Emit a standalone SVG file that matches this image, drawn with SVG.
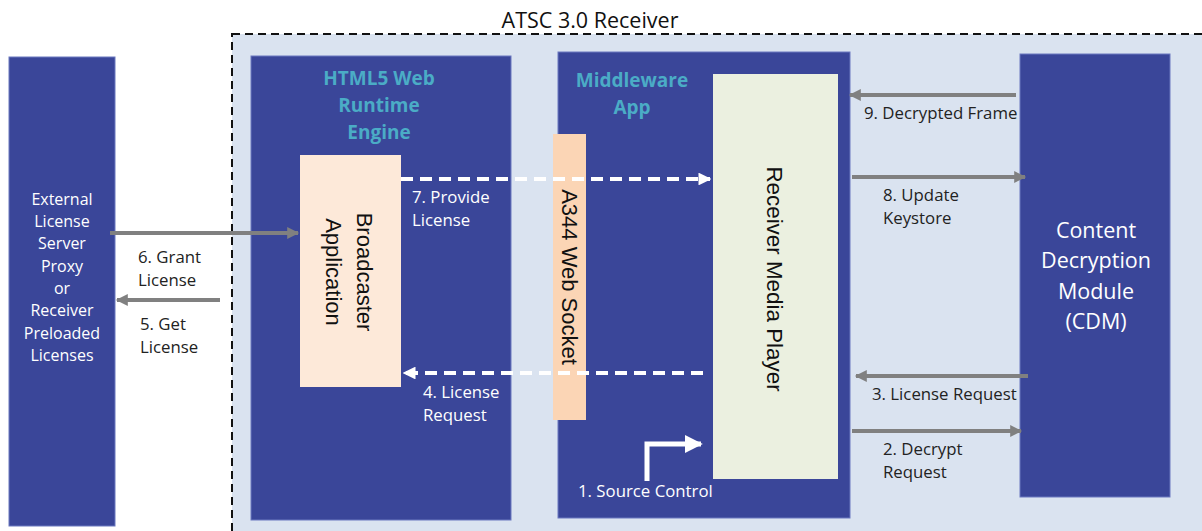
<svg xmlns="http://www.w3.org/2000/svg" width="1202" height="531" viewBox="0 0 1202 531">
<style>
.blue{fill:#3a4699;stroke:#6b78bf;stroke-width:1}
.t{font-family:"Open Sans","Liberation Sans",sans-serif;font-size:16.8px;fill:#222}
.w{font-family:"Open Sans","Liberation Sans",sans-serif;font-size:16.8px;fill:#ffffff}
.head{font-family:"Open Sans","Liberation Sans",sans-serif;font-size:19px;font-weight:bold;fill:#4bacc6;text-anchor:middle}
.big{font-family:"Liberation Sans",Arial,sans-serif;font-size:22px;fill:#111;text-anchor:middle}
.gray{stroke:#808080;stroke-width:4;fill:none}
.dash{stroke:#ffffff;stroke-width:4;fill:none;stroke-dasharray:12 7}
</style>
<defs>
<marker id="ga" viewBox="0 0 10 10" refX="9" refY="5" markerWidth="3.2" markerHeight="3" orient="auto" markerUnits="strokeWidth">
<path d="M0,0 L10,5 L0,10 z" fill="#808080"/>
</marker>
<marker id="wa" viewBox="0 0 10 10" refX="9" refY="5" markerWidth="3.2" markerHeight="3.2" orient="auto" markerUnits="strokeWidth">
<path d="M0,0 L10,5 L0,10 z" fill="#ffffff"/>
</marker>
<marker id="wb" viewBox="0 0 10 10" refX="9" refY="5" markerWidth="3.6" markerHeight="4" orient="auto" markerUnits="strokeWidth">
<path d="M0,0 L10,5 L0,10 z" fill="#ffffff"/>
</marker>
</defs>
<rect width="1202" height="531" fill="#ffffff"/>
<g id="receiver">
<rect x="232" y="34" width="980" height="510" fill="#dae3f0" stroke="#111" stroke-width="2" stroke-dasharray="8 5"/>
<text x="590" y="28" text-anchor="middle" style="font-family:'Open Sans','Liberation Sans',sans-serif;font-size:21.5px;fill:#111">ATSC 3.0 Receiver</text>
</g>
<g id="external">
<rect class="blue" x="9" y="57" width="106" height="469"/>
<text text-anchor="middle" style="font-family:'Open Sans','Liberation Sans',sans-serif;font-size:16px;fill:#fff"><tspan x="62" y="205">External</tspan><tspan x="62" y="227">License</tspan><tspan x="62" y="249">Server</tspan><tspan x="62" y="272">Proxy</tspan><tspan x="62" y="294">or</tspan><tspan x="62" y="316">Receiver</tspan><tspan x="62" y="339">Preloaded</tspan><tspan x="62" y="361">Licenses</tspan></text>
</g>
<g id="html5">
<rect class="blue" x="251" y="56" width="260" height="464"/>
<text class="head"><tspan x="379" y="85">HTML5 Web</tspan><tspan x="379" y="112">Runtime</tspan><tspan x="379" y="139">Engine</tspan></text>
</g>
<g id="broadcaster">
<rect x="300" y="155" width="101" height="232" fill="#fde9d9"/>
<text class="big" transform="translate(350,272) rotate(90)"><tspan x="0" y="-7">Broadcaster</tspan><tspan x="0" y="24">Application</tspan></text>
</g>
<g id="middleware">
<rect class="blue" x="558" y="52" width="292" height="466"/>
<text class="head"><tspan x="632" y="87">Middleware</tspan><tspan x="632" y="114">App</tspan></text>
</g>
<g id="websocket">
<rect x="553" y="134" width="33" height="286" fill="#fbd5b5"/>
<text class="big" transform="translate(569,277) rotate(90)" y="7">A344 Web Socket</text>
</g>
<g id="player">
<rect x="713" y="74" width="125" height="405" fill="#ebf0e0"/>
<text class="big" transform="translate(775,279) rotate(90)" y="8" style="font-size:22.4px">Receiver Media Player</text>
</g>
<g id="cdm">
<rect class="blue" x="1020" y="54" width="150" height="443"/>
<text text-anchor="middle" style="font-family:'Open Sans','Liberation Sans',sans-serif;font-size:21.5px;fill:#fff"><tspan x="1096" y="238">Content</tspan><tspan x="1096" y="268">Decryption</tspan><tspan x="1096" y="299">Module</tspan><tspan x="1096" y="329">(CDM)</tspan></text>
</g>
<g id="connectors">
<line class="gray" x1="1016" y1="95" x2="850" y2="95" marker-end="url(#ga)"/>
<line class="gray" x1="852" y1="177" x2="1025" y2="177" marker-end="url(#ga)"/>
<line class="gray" x1="1028" y1="376" x2="856" y2="376" marker-end="url(#ga)"/>
<line class="gray" x1="852" y1="431" x2="1021" y2="431" marker-end="url(#ga)"/>
<line class="gray" x1="110" y1="233" x2="298" y2="233" marker-end="url(#ga)"/>
<line class="gray" x1="220" y1="300" x2="117" y2="300" marker-end="url(#ga)"/>
<line class="dash" x1="401" y1="179" x2="710" y2="179" marker-end="url(#wa)"/>
<line class="dash" x1="703" y1="373" x2="404" y2="373" marker-end="url(#wa)"/>
<path d="M647,481 V444 H701" stroke="#fff" stroke-width="5" fill="none" marker-end="url(#wb)"/>
<text class="t" x="864" y="119">9. Decrypted Frame</text>
<text class="t"><tspan x="883" y="201">8. Update</tspan><tspan x="883" y="224">Keystore</tspan></text>
<text class="t" x="872" y="400">3. License Request</text>
<text class="t"><tspan x="883" y="455">2. Decrypt</tspan><tspan x="883" y="478">Request</tspan></text>
<text class="t"><tspan x="138" y="263">6. Grant</tspan><tspan x="138" y="286">License</tspan></text>
<text class="t"><tspan x="140" y="330">5. Get</tspan><tspan x="140" y="353">License</tspan></text>
<text class="w"><tspan x="412" y="203">7. Provide</tspan><tspan x="412" y="226">License</tspan></text>
<text class="w"><tspan x="423" y="398">4. License</tspan><tspan x="423" y="421">Request</tspan></text>
<text class="w" x="578" y="497">1. Source Control</text>
</g>
</svg>
